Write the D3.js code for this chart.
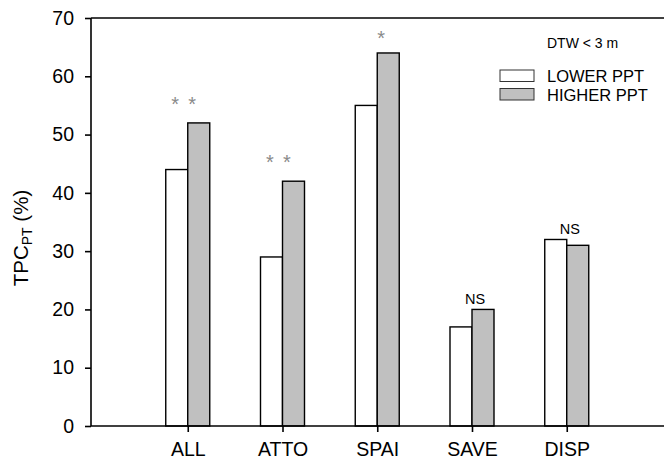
<!DOCTYPE html>
<html>
<head>
<meta charset="utf-8">
<script src="https://cdn.jsdelivr.net/npm/d3@7"></script>
<style>
  html, body { margin: 0; padding: 0; background: #fff; }
  svg { display: block; font-family: Arial, "Liberation Sans", sans-serif; }
</style>
</head>
<body>
<svg id="chart" width="664" height="463"></svg>
<script>
const categories = ["ALL", "ATTO", "SPAI", "SAVE", "DISP"];
const lowerPPT  = [44, 29, 55, 17, 32];
const higherPPT = [52, 42, 64, 20, 31];
const annotations = ["* *", "* *", "*", "NS", "NS"];
const yTicks = [0, 10, 20, 30, 40, 50, 60, 70];
const seriesNames = ["LOWER PPT", "HIGHER PPT"];
const legendTitle = "DTW < 3 m";

(function () {
const svg = d3.select("#chart");
const mLeft = 91, mTop = 18, mBottom = 426, mRight = 664;

const y = d3.scaleLinear().domain([0, 70]).range([mBottom, mTop]);
const x = d3.scalePoint().domain(["_s", ...categories, "_e"]).range([93, 661.5]);
const barW = 22;

// frame top line
svg.append("line").attr("x1", mLeft).attr("x2", mRight).attr("y1", mTop).attr("y2", mTop)
  .attr("stroke", "#000").attr("stroke-width", 1.6);

// bars
const g = svg.append("g");
categories.forEach((c, i) => {
  g.append("rect").attr("x", x(c) - barW).attr("y", y(lowerPPT[i]))
    .attr("width", barW).attr("height", y(0) - y(lowerPPT[i]))
    .attr("fill", "#fff").attr("stroke", "#000").attr("stroke-width", 1.4);
  g.append("rect").attr("x", x(c)).attr("y", y(higherPPT[i]))
    .attr("width", barW).attr("height", y(0) - y(higherPPT[i]))
    .attr("fill", "#c0c0c0").attr("stroke", "#000").attr("stroke-width", 1.4);
});

// annotations
categories.forEach((c, i) => {
  const a = annotations[i];
  const hi = Math.max(lowerPPT[i], higherPPT[i]);
  if (a.indexOf("*") >= 0) {
    const stars = a.split(" ");
    const n = stars.length;
    stars.forEach((s, k) => {
      const cx = x(c) - 4 + (k - (n - 1) / 2) * 17 + (n === 1 ? 8 : 0);
      svg.append("text").attr("x", cx).attr("y", y(hi) - 12 + (n === 1 ? 4 : 0))
        .attr("text-anchor", "middle").attr("font-size", 20).attr("fill", "#8a8a8a")
        .text("*");
    });
  } else {
    svg.append("text").attr("x", x(c) + 3).attr("y", y(hi) - 5)
      .attr("text-anchor", "middle").attr("font-size", 14.5).attr("fill", "#000")
      .text(a);
  }
});

// y axis
const yAxis = d3.axisLeft(y).tickValues(yTicks).tickSize(6).tickPadding(11).tickSizeOuter(0);
const ya = svg.append("g").attr("transform", `translate(${mLeft},0)`).call(yAxis);
ya.select(".domain").attr("stroke-width", 1.6).attr("d", `M0,${mTop}V${mBottom}`);
ya.selectAll(".tick line").attr("stroke-width", 1.6);
ya.selectAll(".tick text").attr("font-size", 19.5).attr("fill", "#000")
  .attr("font-family", "Arial, 'Liberation Sans', sans-serif");

// x axis
const xAxis = d3.axisBottom(x).tickValues(categories).tickSize(6).tickPadding(10).tickSizeOuter(0);
const xa = svg.append("g").attr("transform", `translate(0,${mBottom})`).call(xAxis);
xa.select(".domain").attr("d", `M${mLeft},0H${mRight}`).attr("stroke-width", 1.6);
xa.selectAll(".tick line").attr("stroke-width", 1.6);
xa.selectAll(".tick text").attr("font-size", 19.5).attr("fill", "#000")
  .attr("font-family", "Arial, 'Liberation Sans', sans-serif");

// y title
const yt = svg.append("text").attr("transform", `translate(28,238) rotate(-90)`)
  .attr("text-anchor", "middle").attr("font-size", 20.5).attr("fill", "#000");
yt.append("tspan").text("TPC");
yt.append("tspan").attr("font-size", 14).attr("dy", 4).text("PT");
yt.append("tspan").attr("dy", -4).text(" (%)");

// legend
svg.append("text").attr("x", 547).attr("y", 48).attr("font-size", 14).attr("fill", "#000").text(legendTitle);
const legFills = ["#fff", "#c0c0c0"];
seriesNames.forEach((s, i) => {
  const ly = 70 + i * 18.5;
  svg.append("rect").attr("x", 500).attr("y", ly).attr("width", 34).attr("height", 11.5)
    .attr("fill", legFills[i]).attr("stroke", "#333").attr("stroke-width", 1);
  svg.append("text").attr("x", 547).attr("y", ly + 12).attr("font-size", 16.5).attr("fill", "#000").text(s);
});
})();
</script>
</body>
</html>
